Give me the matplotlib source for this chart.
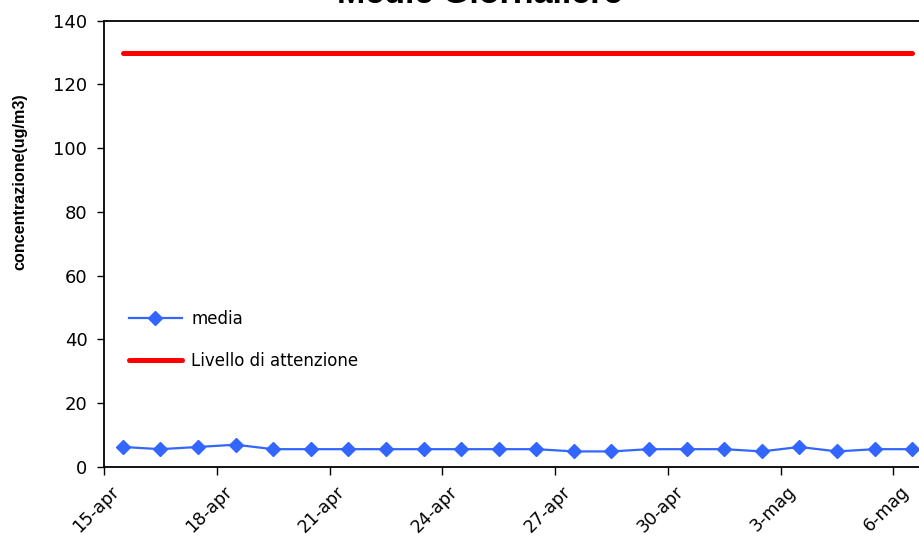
import matplotlib
matplotlib.use('Agg')
import matplotlib.pyplot as plt
from matplotlib.transforms import ScaledTranslation

plt.rcParams['font.family'] = ['DejaVu Sans']

# dati
giorni = ['15-apr', '16-apr', '17-apr', '18-apr', '19-apr', '20-apr', '21-apr',
          '22-apr', '23-apr', '24-apr', '25-apr', '26-apr', '27-apr', '28-apr',
          '29-apr', '30-apr', '1-mag', '2-mag', '3-mag', '4-mag', '5-mag', '6-mag']
media = [6.2, 5.5, 6.2, 6.9, 5.5, 5.5, 5.5, 5.5, 5.5, 5.5, 5.5,
         5.5, 4.8, 4.8, 5.5, 5.5, 5.5, 4.8, 6.2, 4.8, 5.5, 5.5]
livello = [130] * len(giorni)

W, H = 920, 548
fig = plt.figure(figsize=(W / 100, H / 100), dpi=100)
# area del grafico in pixel
x0, x1 = 104, 931
y_top, y_bot = 20.7, 466.7
ax = fig.add_axes([x0 / W, (H - y_bot) / H, (x1 - x0) / W, (y_bot - y_top) / H])

x = list(range(len(giorni)))
ax.plot(x, media, color='#3366ff', linewidth=1.6, marker='D', markersize=7,
        label='media')
ax.plot(x, livello, color='#ff0000', linewidth=3.6, solid_capstyle='round',
        label='Livello di attenzione')

ax.set_xlim(-0.5, len(giorni) - 0.5)
ax.set_ylim(0, 140)
ax.set_yticks(range(0, 141, 20))
ax.tick_params(axis='y', labelsize=13, length=5, width=1, direction='out', pad=7)

# tacche ai confini delle categorie, etichette ogni 3 giorni
ax.set_xticks([i - 0.5 for i in range(0, len(giorni), 3)])
ax.set_xticklabels([])
ax.tick_params(axis='x', which='major', length=6, width=1, direction='out')
ax.set_xticks(list(range(0, len(giorni), 3)), minor=True)
labels = ax.set_xticklabels([giorni[i] for i in range(0, len(giorni), 3)], minor=True,
                            rotation=45, ha='right', va='center', rotation_mode='anchor')
ax.tick_params(axis='x', which='minor', length=0, labelsize=12.5, pad=16)
shift = ScaledTranslation(-6 / 100, 0, fig.dpi_scale_trans)
for t in labels:
    t.set_transform(t.get_transform() + shift)

for s in ax.spines.values():
    s.set_linewidth(1.3)
    s.set_color('black')

fig.text(0.522, 1 - 3 / H, 'Medie Giornaliere', ha='center', va='baseline',
         fontsize=24.5, fontweight='bold', family='Liberation Sans')
fig.text(20 / W, 1 - 182 / H, 'concentrazione(ug/m3)', rotation=90,
         ha='center', va='center', fontsize=11.6, fontweight='bold',
         family='Liberation Sans')

ax.legend(loc='upper left', bbox_to_anchor=(122 / W, 1 - 303 / H),
          bbox_transform=fig.transFigure, frameon=False, fontsize=12,
          handlelength=3.2, handletextpad=0.55, labelspacing=1.45,
          borderaxespad=0)

fig.savefig('out.png', dpi=100)
